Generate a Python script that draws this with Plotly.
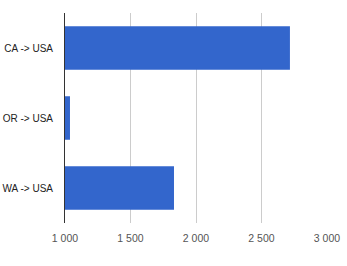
import plotly.graph_objects as go

categories = ["CA -> USA", "OR -> USA", "WA -> USA"]
values = [2717, 1038, 1832]
tick_vals = [1000, 1500, 2000, 2500, 3000]

fig = go.Figure(go.Bar(
    x=values, y=categories, orientation="h",
    marker=dict(color="#3366CC", line=dict(width=0)),
))
fig.update_layout(
    width=347, height=266,
    margin=dict(l=65, r=20, t=13, b=43),
    paper_bgcolor="white", plot_bgcolor="white",
    separators=". ",
    bargap=0.38,
    showlegend=False,
    font=dict(family="Liberation Sans, Arial, sans-serif", size=10, color="#222"),
)
fig.update_xaxes(
    range=[1000, 3000], tickvals=tick_vals, tickformat=",d",
    showgrid=True, gridcolor="#cccccc", gridwidth=1,
    zeroline=False, showline=False, automargin=False,
    tickfont=dict(color="#555", size=10.5),
    ticks="outside", ticklen=5, tickcolor="rgba(0,0,0,0)",
)
fig.update_yaxes(
    categoryorder="array", categoryarray=categories[::-1],
    showgrid=False, zeroline=False, automargin=False,
    showline=True, linecolor="#333", linewidth=1,
    ticks="", ticklabelstandoff=9,
    tickfont=dict(color="#222", size=10),
)
fig.write_html("out.html")
